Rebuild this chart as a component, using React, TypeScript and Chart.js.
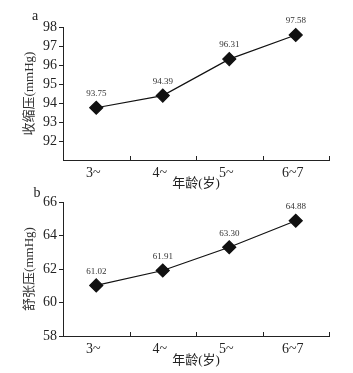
import React, { useEffect, useRef } from "react";
import { Chart, registerables } from "chart.js";
Chart.register(...registerables);

const ageGroups = ["3~", "4~", "5~", "6~7"];
const systolic = [93.75, 94.39, 96.31, 97.58];
const diastolic = [61.02, 61.91, 63.3, 64.88];
const xAxisTitle = "年龄(岁)";
const systolicTitle = "收缩压(mmHg)";
const diastolicTitle = "舒张压(mmHg)";

const FONT = "'Liberation Serif', 'Noto Sans CJK SC', serif";
const INK = "#222";

type PanelProps = {
  top: number;
  height: number;
  values: number[];
  yMin: number;
  yMax: number;
  yStep: number;
  firstLabel: number;
  yTitle: string;
  letter: string;
  letterX: number;
  letterY: number;
  areaTop: number;
  areaBottom: number;
  xTitlePad: number;
};

function Panel(p: PanelProps) {
  const ref = useRef<HTMLCanvasElement | null>(null);
  useEffect(() => {
    if (!ref.current) return;
    const extras = {
      id: "extras",
      afterDraw(chart: any) {
        const ctx = chart.ctx;
        const x = chart.scales.x;
        const bottom = chart.chartArea.bottom;
        const half = (x.getPixelForValue(1) - x.getPixelForValue(0)) / 2;
        ctx.save();
        ctx.strokeStyle = INK;
        ctx.lineWidth = 1;
        for (let i = 0; i < ageGroups.length; i++) {
          const px = Math.round(x.getPixelForValue(i) + half) + 0.5;
          ctx.beginPath();
          ctx.moveTo(px, bottom);
          ctx.lineTo(px, bottom - 4);
          ctx.stroke();
        }
        const meta = chart.getDatasetMeta(0);
        ctx.fillStyle = "#333";
        ctx.font = `9px ${FONT}`;
        ctx.textAlign = "center";
        ctx.textBaseline = "middle";
        meta.data.forEach((pt: any, i: number) => {
          ctx.fillText(p.values[i].toFixed(2), pt.x, pt.y - 14);
        });
        ctx.fillStyle = INK;
        ctx.font = `14px ${FONT}`;
        ctx.fillText(p.letter, p.letterX, p.letterY);
        ctx.restore();
      },
    };
    const chart = new Chart(ref.current, {
      type: "line",
      data: {
        labels: ageGroups,
        datasets: [
          {
            data: p.values,
            borderColor: "#111",
            borderWidth: 1.2,
            pointStyle: "rectRot",
            pointRadius: 6.5,
            pointBackgroundColor: "#111",
            pointBorderColor: "#111",
            tension: 0,
          },
        ],
      },
      options: {
        responsive: false,
        animation: false,
        layout: { padding: { top: p.areaTop, right: 24, left: 0, bottom: 0 } },
        plugins: { legend: { display: false }, tooltip: { enabled: false } },
        scales: {
          x: {
            offset: true,
            grid: { display: false, drawTicks: false },
            border: { display: true, color: INK, width: 1 },
            ticks: { color: INK, font: { family: FONT, size: 14 }, padding: 5, labelOffset: -3 },
            title: {
              display: true,
              text: xAxisTitle,
              color: INK,
              font: { family: FONT, size: 13, lineHeight: 1 },
              padding: { top: 0, bottom: p.xTitlePad },
            },
            afterFit(s: any) {
              s.height = p.height - p.areaBottom;
            },
          },
          y: {
            min: p.yMin,
            max: p.yMax,
            grid: { drawOnChartArea: false, drawTicks: true, tickLength: 4, color: INK },
            border: { display: true, color: INK, width: 1 },
            ticks: { stepSize: p.yStep, color: INK, font: { family: FONT, size: 14 }, padding: 2 },
            title: {
              display: true,
              text: p.yTitle,
              color: "#333",
              font: { family: FONT, size: 13, lineHeight: 1 },
              padding: { top: 23, bottom: 0 },
            },
            afterBuildTicks(s: any) {
              s.ticks = s.ticks.filter((t: any) => t.value >= p.firstLabel);
            },
            afterFit(s: any) {
              s.width = 63;
            },
          },
        },
      },
      plugins: [extras],
    });
    return () => chart.destroy();
  }, []);
  return (
    <div style={{ position: "absolute", left: 0, top: p.top, width: 353, height: p.height }}>
      <canvas ref={ref} width={353} height={p.height} style={{ display: "block" }} />
    </div>
  );
}

export default function App() {
  return (
    <div style={{ position: "absolute", left: 0, top: 0, width: 353, height: 373, background: "#fff" }}>
      <Panel
        top={0}
        height={190}
        values={systolic}
        yMin={91}
        yMax={98}
        yStep={1}
        firstLabel={92}
        yTitle={systolicTitle}
        letter="a"
        letterX={35}
        letterY={16}
        areaTop={27}
        areaBottom={160}
        xTitlePad={0}
      />
      <Panel
        top={180}
        height={193}
        values={diastolic}
        yMin={58}
        yMax={66}
        yStep={2}
        firstLabel={58}
        yTitle={diastolicTitle}
        letter="b"
        letterX={37}
        letterY={13}
        areaTop={22}
        areaBottom={156}
        xTitlePad={6}
      />
    </div>
  );
}
